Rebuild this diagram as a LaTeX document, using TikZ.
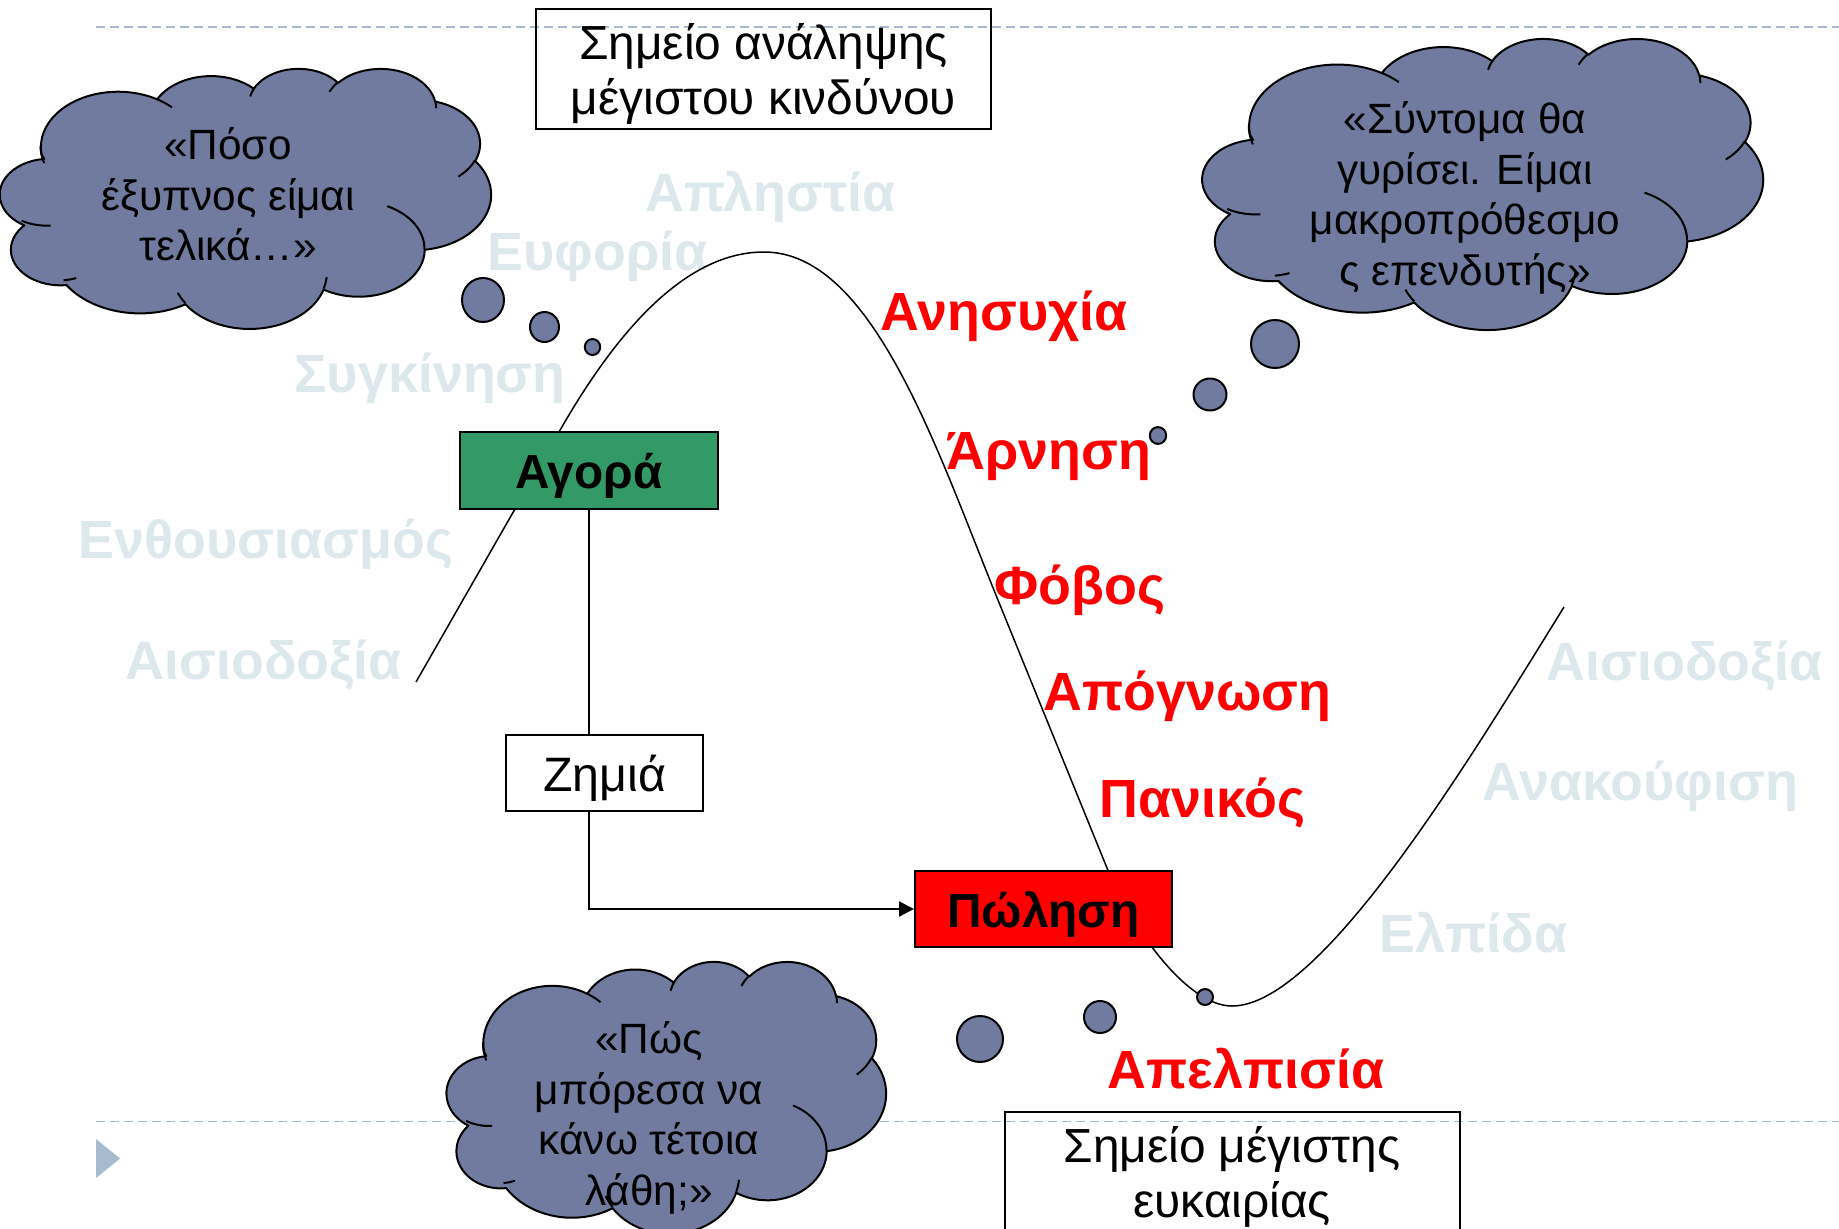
\documentclass[tikz,border=0pt]{standalone}
\usepackage{fontspec}
\setmainfont{Liberation Sans}
\usetikzlibrary{arrows.meta}
\definecolor{cloudblue}{RGB}{113,123,160}
\definecolor{lightlbl}{RGB}{221,232,237}
\definecolor{dashblue}{RGB}{167,187,207}
\definecolor{buygreen}{RGB}{51,153,102}
\definecolor{sellred}{RGB}{255,0,0}
% PowerPoint-like cloud: #1,#2 = top-left corner, #3 = width, #4 = height
\newcommand\pptcloud[4]{%
\begin{scope}[shift={(#1,#2)}, xscale=#3/432, yscale=#4/432]
\draw[cloudshape] (39.00,143.70)
 arc[start angle=172.25, end angle=300.37, x radius=67.53, y radius=91.90]
 arc[start angle=-152.03, end angle=-45.46, x radius=53.33, y radius=72.67]
 arc[start angle=-153.49, end angle=-37.32, x radius=43.65, y radius=59.45]
 arc[start angle=-139.72, end angle=-10.21, x radius=48.57, y radius=65.95]
 arc[start angle=-74.77, end angle=23.21, x radius=53.33, y radius=72.73]
 arc[start angle=-37.52, end angle=81.86, x radius=67.75, y radius=92.20]
 arc[start angle=0.46, end angle=121.97, x radius=57.85, y radius=78.67]
 arc[start angle=16.84, end angle=146.23, x radius=67.52, y radius=92.15]
 arc[start angle=58.98, end angle=146.34, x radius=77.20, y radius=105.43]
 arc[start angle=83.31, end angle=223.09, x radius=43.60, y radius=59.18]
 arc[start angle=120.36, end angle=264.11, x radius=43.45, y radius=59.45]
 -- cycle;
\draw[cloudinner]
 (46.93,261.77) arc[start angle=85.55, end angle=120.36, x radius=43.45, y radius=59.45]
 (69.28,348.99) arc[start angle=68.23, end angle=83.31, x radius=43.60, y radius=59.18]
 (164.78,390.90) arc[start angle=146.23, end angle=158.48, x radius=67.52, y radius=92.15]
 (288.27,347.51) arc[start angle=4.74, end angle=16.84, x radius=67.52, y radius=92.15]
 (341.29,229.54) arc[start angle=-64.03, end angle=0.46, x radius=57.85, y radius=78.67]
 (417.98,153.54) arc[start angle=23.21, end angle=49.65, x radius=53.33, y radius=72.73]
 (383.24,54.26) arc[start angle=-10.21, end angle=0.82, x radius=48.57, y radius=65.95]
 (290.78,39.52) arc[start angle=-156.30, end angle=-139.72, x radius=48.57, y radius=65.95]
 (221.41,47.20) arc[start angle=-167.72, end angle=-153.49, x radius=43.65, y radius=59.45]
 (140.00,51.92) arc[start angle=-59.63, end angle=-45.74, x radius=67.53, y radius=91.90]
 (41.27,157.89) arc[start angle=162.37, end angle=180.65, x radius=67.53, y radius=91.90];
\end{scope}}
\begin{document}
\begin{tikzpicture}[x=1bp,y=-1bp,
  guide/.style={dashblue, line width=1.6bp, dash pattern=on 9bp off 5bp},
  cloudshape/.style={fill=cloudblue, draw=black, line width=2bp, line join=round},
  cloudinner/.style={draw=black, line width=2bp},
  bubble/.style={fill=cloudblue, draw=black, line width=2bp},
  cloudtext/.style={font=\fontsize{42.5}{51}\selectfont, align=center, inner sep=0pt},
  notebox/.style={draw=black, line width=2bp, minimum width=455bp, minimum height=120bp, inner sep=0pt, align=center, font=\fontsize{48}{56}\selectfont},
  actbox/.style={draw=black, line width=2bp, inner sep=0pt, text height=36bp, text depth=0pt},
  actfont/.style={font=\fontsize{48.5}{56}\selectfont},
  actbold/.style={font=\fontsize{48}{56}\selectfont\bfseries},
  mood/.style={anchor=base west, inner sep=0pt, xshift=-3.5bp, font=\fontsize{54}{60}\selectfont\bfseries},
  calm/.style={mood, text=lightlbl},
  alarm/.style={mood, text=sellred},
  conn/.style={line width=2.2bp, -{Triangle[length=15bp,width=15bp]}},
  curve/.style={line width=1.5bp}
]
\useasboundingbox (0,0) rectangle (1839,1228);
\fill[white] (0,0) rectangle (1839,1228);
\clip (0,0) rectangle (1839,1228);

% guide lines
\draw[guide] (96,27) -- (1839,27);
\draw[guide] (96,1121.5) -- (1839,1121.5);
\fill[dashblue] (96,1139) -- (120,1158.5) -- (96,1178) -- cycle;

% light mood labels
\node[calm] (greed) at (649,211) {Απληστία};
\node[calm] (euphoria) at (491,270) {Ευφορία};
\node[calm] (thrill) at (298,392) {Συγκίνηση};
\node[calm] (enthus) at (82,558) {Ενθουσιασμός};
\node[calm] (optimL) at (129,679) {Αισιοδοξία};
\node[calm] (optimR) at (1550,680) {Αισιοδοξία};
\node[calm] (relief) at (1486,800) {Ανακούφιση};
\node[calm] (hope) at (1383,952) {Ελπίδα};

% market curve
\draw[curve] (416,682) -- (559,432)
  .. controls (627.3,312) and (695.7,252) .. (764,252)
  .. controls (874,252) and (938.5,455) .. (1000,605)
  -- (1107,868)
  .. controls (1131.4,928) and (1187,1006) .. (1232,1006)
  .. controls (1322,1006) and (1471,757) .. (1564,607);

% clouds
\pptcloud{-3}{68}{494}{260}
\pptcloud{1199}{38}{564}{291}
\pptcloud{444}{961}{442}{272}

% thought bubbles
\draw[bubble] (483,300) ellipse[x radius=21, y radius=22];
\draw[bubble] (544.5,327) ellipse[x radius=14.5, y radius=15];
\draw[bubble] (592.5,347) ellipse[x radius=7.7, y radius=8];
\draw[bubble] (1275,344) ellipse[x radius=24, y radius=24];
\draw[bubble] (1210,394.5) ellipse[x radius=16.5, y radius=16];
\draw[bubble] (1158,435.5) ellipse[x radius=8.2, y radius=8.4];
\draw[bubble] (980,1039) ellipse[x radius=23, y radius=23];
\draw[bubble] (1100,1017) ellipse[x radius=16, y radius=16];
\draw[bubble] (1205,997) ellipse[x radius=8, y radius=8];

% cloud texts
\node[cloudtext] (q1) at (228,196) {\rule{0pt}{40bp}«Πόσο\\έξυπνος είμαι\\τελικά…»\rule[-12bp]{0pt}{12bp}};
\node[cloudtext] (q2) at (1465,195.5) {\rule{0pt}{40bp}«Σύντομα θα\\γυρίσει. Είμαι\\μακροπρόθεσμο\\ς επενδυτής»\rule[-12bp]{0pt}{12bp}};
\node[cloudtext] (q3) at (649,1115.5) {\rule{0pt}{40bp}«Πώς\\μπόρεσα να\\κάνω τέτοια\\λάθη;»\rule[-12bp]{0pt}{12bp}};

% note boxes
\node[notebox] (risk) at (763.5,69) {\rule{0pt}{46bp}Σημείο ανάληψης\\μέγιστου κινδύνου\rule[-10bp]{0pt}{10bp}};
\node[notebox] (chance) at (1232,1172) {\rule{0pt}{46bp}Σημείο μέγιστης\\ευκαιρίας\rule[-10bp]{0pt}{10bp}};

% action boxes and connector
\node[actbox, actbold, fill=buygreen, minimum width=258bp, minimum height=77bp] (buy) at (589,470.5) {Αγορά};
\node[actbox, actbold, fill=sellred, minimum width=257bp, minimum height=76bp] (sell) at (1043.5,909) {Πώληση};
\draw[conn] (buy.south) |- (sell.west);
\node[actbox, actfont, fill=white, minimum width=197bp, minimum height=76bp] (loss) at (604.5,773) {Ζημιά};

% red mood labels
\node[alarm] (worry) at (884,330) {Ανησυχία};
\node[alarm] (denial) at (950,469) {Άρνηση};
\node[alarm] (fear) at (998,604) {Φόβος};
\node[alarm] (despair) at (1047,710) {Απόγνωση};
\node[alarm] (panic) at (1103,817) {Πανικός};
\node[alarm] (hopeless) at (1111,1088) {Απελπισία};
\end{tikzpicture}
\end{document}
